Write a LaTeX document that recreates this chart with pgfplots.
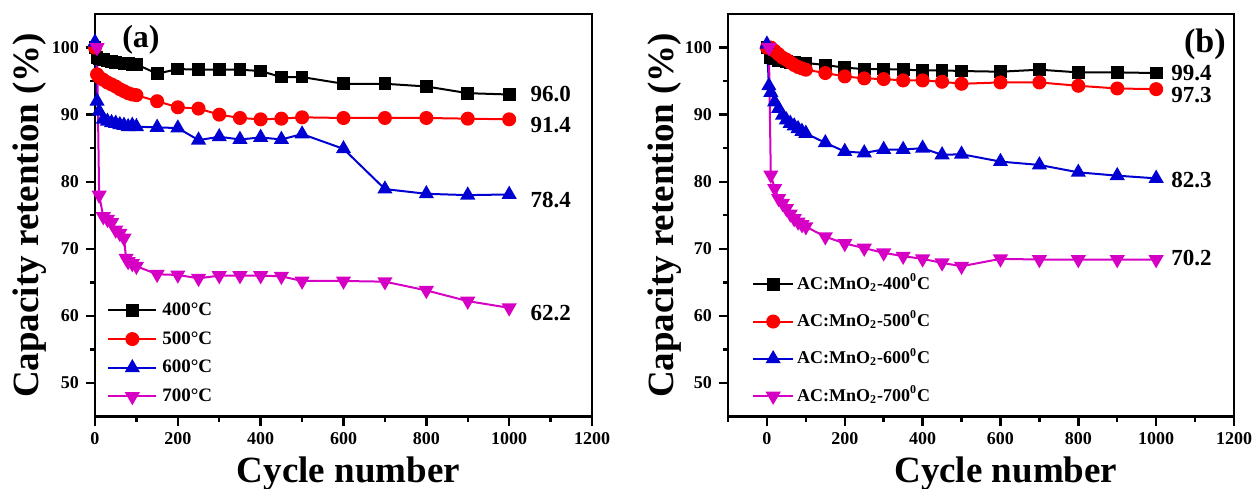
\documentclass[border=0pt]{standalone}
\usepackage{pgfplots}
\pgfplotsset{compat=1.18}
\usepackage{fontspec}
\setmainfont{Liberation Serif}
\definecolor{cblue}{RGB}{0,0,210}
\definecolor{cmag}{RGB}{214,0,196}
\definecolor{cred}{RGB}{255,0,0}
\pgfplotsset{
  myaxis/.style={
    scale only axis, height=201.25pt, ymin=45, ymax=105, xmax=1200,
    xtick={0,200,...,1200},
    ytick={50,60,...,100}, minor ytick={55,65,...,95},
    tick pos=left, tick align=outside,
    major tick length=4.5pt, minor tick length=2.5pt,
    every tick/.style={line width=1.2pt, black},
    axis line style={line width=1.3pt},
    tick label style={font=\fontsize{9}{10}\selectfont\bfseries},
    /pgf/number format/assume math mode=true,
    /pgf/number format/1000 sep={},
    label style={font=\fontsize{18.5}{20}\selectfont\bfseries},
    xlabel={Cycle number}, ylabel={Capacity retention (\%)},
    every axis plot/.append style={line width=1pt},
    legend cell align=left,
  },
  sq/.style={black, mark=square*, mark size=2.7pt, mark options={solid}},
  ci/.style={cred, mark=*, mark size=3pt, mark options={solid}},
  tu/.style={cblue, mark=triangle*, mark size=3.4pt, mark options={solid}},
  td/.style={cmag, mark=triangle*, mark size=3.4pt, mark options={solid, rotate=180}},
}
\begin{document}
\begin{tikzpicture}
\path[use as bounding box] (0,0) rectangle (627pt,244pt);
% ---------------- panel (a)
\begin{axis}[myaxis, at={(47.5pt,35.75pt)}, anchor=south west,
  width=248.5pt, xmin=0,
  minor xtick={100,300,...,1100},
  xlabel style={at={(axis description cs:0.51,-0.163)}, anchor=base},
  ylabel style={at={(axis description cs:-0.131,0.5)}, anchor=center},
  legend image code/.code={\draw[mark repeat=2,mark phase=2,#1] plot coordinates {(0pt,0pt) (12pt,0pt) (24pt,0pt)};},
  legend style={draw=none, fill=none, at={(axis description cs:0.024,0.287)}, anchor=north west,
    font=\fontsize{9.5}{10}\selectfont\bfseries, inner sep=0pt, row sep=5.35pt,
    nodes={inner sep=0pt, text height=7pt, text depth=2pt},
    /tikz/every odd column/.append style={column sep=2.5pt}},
]
\addplot[sq] coordinates {(0,100) (5,98.5) (10,98.3) (20,98.2) (30,98.0) (40,97.9) (50,97.8) (60,97.7) (70,97.6) (80,97.6) (90,97.5) (100,97.5) (150,96.1) (200,96.8) (250,96.7) (300,96.7) (350,96.7) (400,96.5) (450,95.6) (500,95.6) (600,94.6) (700,94.6) (800,94.2) (900,93.2) (1000,93.0)};
\addlegendentry{400°C}
\addplot[ci] coordinates {(0,100) (5,96.0) (10,95.6) (20,95.2) (30,94.8) (40,94.5) (50,94.2) (60,93.8) (70,93.5) (80,93.2) (90,93.0) (100,92.9) (150,92.0) (200,91.1) (250,90.9) (300,90.0) (350,89.5) (400,89.3) (450,89.4) (500,89.6) (600,89.5) (700,89.5) (800,89.5) (900,89.4) (1000,89.3)};
\addlegendentry{500°C}
\addplot[tu] coordinates {(0,100.8) (5,92.0) (10,90.5) (20,89.3) (30,89.0) (40,88.8) (50,88.7) (60,88.5) (70,88.4) (80,88.2) (90,88.4) (100,88.2) (150,88.1) (200,88.0) (250,86.2) (300,86.7) (350,86.3) (400,86.6) (450,86.3) (500,87.1) (600,84.9) (700,78.9) (800,78.2) (900,78.0) (1000,78.1)};
\addlegendentry{600°C}
\addplot[td] coordinates {(5,100) (10,78.0) (20,74.8) (30,74.4) (40,73.9) (50,72.8) (60,72.3) (70,71.6) (75,68.6) (80,68.1) (90,67.8) (100,67.4) (150,66.2) (200,66.1) (250,65.6) (300,66.0) (350,66.0) (400,66.0) (450,65.9) (500,65.2) (600,65.2) (700,65.1) (800,63.8) (900,62.2) (1000,61.2)};
\addlegendentry{700°C}
\begin{scope}[every node/.style={anchor=west, font=\fontsize{11.5}{12}\selectfont\bfseries, inner sep=0pt}]
\node at (axis cs:1051,93.1) {96.0};
\node at (axis cs:1051,88.5) {91.4};
\node at (axis cs:1051,77.3) {78.4};
\node at (axis cs:1051,60.4) {62.2};
\end{scope}
\node[font=\fontsize{16}{17}\selectfont\bfseries, inner sep=0pt] at (axis cs:111,101.15) {(a)};
\end{axis}
% ---------------- panel (b)
\begin{axis}[myaxis, at={(364pt,35.75pt)}, anchor=south west,
  width=253pt, xmin=-100,
  minor xtick={-100,100,300,...,1100},
  xlabel style={at={(axis description cs:0.549,-0.163)}, anchor=base},
  ylabel style={at={(axis description cs:-0.1245,0.5)}, anchor=center},
  legend image code/.code={\draw[mark repeat=2,mark phase=2,#1] plot coordinates {(0pt,0pt) (10pt,0pt) (20pt,0pt)};},
  legend style={draw=none, fill=none, at={(axis description cs:0.047,0.352)}, anchor=north west,
    font=\fontsize{9}{10}\selectfont\bfseries, inner sep=0pt, row sep=9.65pt,
    nodes={inner sep=0pt, text height=7pt, text depth=2pt},
    /tikz/every odd column/.append style={column sep=1.5pt}},
]
\addplot[sq] coordinates {(0,100) (10,98.5) (20,98.3) (30,98.1) (40,98.0) (50,97.9) (60,97.8) (70,97.8) (80,97.7) (90,97.7) (100,97.7) (150,97.4) (200,97.0) (250,96.8) (300,96.8) (350,96.7) (400,96.6) (450,96.6) (500,96.5) (600,96.4) (700,96.7) (800,96.3) (900,96.3) (1000,96.2)};
\addlegendentry{AC:MnO\textsubscript{2}-400\textsuperscript{0}C}
\addplot[ci] coordinates {(0,100) (10,100) (20,99.5) (30,99.0) (40,98.5) (50,98.2) (60,97.8) (70,97.4) (80,97.1) (90,96.9) (100,96.7) (150,96.2) (200,95.7) (250,95.4) (300,95.3) (350,95.1) (400,95.1) (450,94.9) (500,94.6) (600,94.8) (700,94.8) (800,94.3) (900,93.9) (1000,93.8)};
\addlegendentry{AC:MnO\textsubscript{2}-500\textsuperscript{0}C}
\addplot[tu] coordinates {(0,100.5) (5,94.3) (10,93.3) (20,91.9) (30,90.9) (40,89.9) (50,89.2) (60,88.7) (70,88.3) (80,87.9) (90,87.5) (100,87.2) (150,85.8) (200,84.5) (250,84.3) (300,84.8) (350,84.8) (400,85.0) (450,84.0) (500,84.1) (600,83.0) (700,82.5) (800,81.4) (900,80.9) (1000,80.5)};
\addlegendentry{AC:MnO\textsubscript{2}-600\textsuperscript{0}C}
\addplot[td] coordinates {(5,100) (10,81.0) (20,79.0) (30,77.5) (40,76.8) (50,76.0) (60,75.2) (70,74.5) (80,74.0) (90,73.6) (100,73.3) (150,71.8) (200,70.8) (250,70.1) (300,69.4) (350,68.9) (400,68.5) (450,67.9) (500,67.4) (600,68.5) (700,68.4) (800,68.4) (900,68.4) (1000,68.4)};
\addlegendentry{AC:MnO\textsubscript{2}-700\textsuperscript{0}C}
\begin{scope}[every node/.style={anchor=west, font=\fontsize{11.5}{12}\selectfont\bfseries, inner sep=0pt}]
\node at (axis cs:1038,96.2) {99.4};
\node at (axis cs:1038,92.95) {97.3};
\node at (axis cs:1038,80.3) {82.3};
\node at (axis cs:1038,68.6) {70.2};
\end{scope}
\node[font=\fontsize{17}{18}\selectfont\bfseries, inner sep=0pt] at (axis cs:1125,100.5) {(b)};
\end{axis}
\end{tikzpicture}
\end{document}
